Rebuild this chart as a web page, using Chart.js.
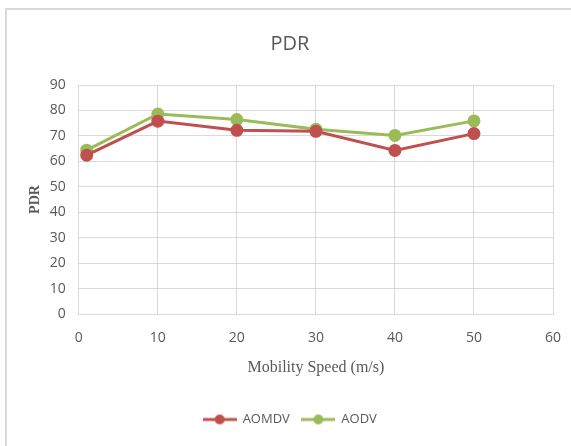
<!DOCTYPE html>
<html>
<head>
<meta charset="utf-8">
<script src="https://cdn.jsdelivr.net/npm/chart.js@4.4.1/dist/chart.umd.min.js"></script>
<style>
  html, body { margin: 0; padding: 0; background: #fff; }
  #wrap { position: relative; width: 571px; height: 446px; }
  #frame { position: absolute; left: 5px; top: 8px; right: -2px; bottom: -2px;
           border-left: 2px solid #d9d9d9; border-top: 2px solid #d9d9d9; }
  canvas { position: absolute; left: 0; top: 0; }
</style>
</head>
<body>
<div id="wrap">
  <div id="frame"></div>
  <canvas id="c" width="571" height="446"></canvas>
</div>
<script>
// Mobility speed (m/s) and packet delivery ratio per protocol
const speeds = [1, 10, 20, 30, 40, 50];
const aomdv = [62.4, 75.8, 72.2, 71.8, 64.3, 70.9];
const aodv  = [64.4, 78.6, 76.4, 72.6, 70.2, 75.9];
const seriesNames = ['AOMDV', 'AODV'];
const seriesColors = ['#c0504d', '#9bbb59'];

const grey = '#595959';
const gridGrey = '#d9d9d9';

// legend marker: short line with a dot in the middle
function legendMarker(color) {
  const cv = document.createElement('canvas');
  cv.width = 34; cv.height = 12;
  const g = cv.getContext('2d');
  g.strokeStyle = color; g.lineWidth = 3;
  g.beginPath(); g.moveTo(0, 6); g.lineTo(34, 6); g.stroke();
  g.fillStyle = color;
  g.beginPath(); g.arc(17, 6, 5, 0, Math.PI * 2); g.fill();
  return cv;
}

const toPoints = vals => speeds.map((s, i) => ({ x: s, y: vals[i] }));

new Chart(document.getElementById('c'), {
  type: 'line',
  data: {
    datasets: [aomdv, aodv].map((vals, i) => ({
      label: seriesNames[i],
      data: toPoints(vals),
      borderColor: seriesColors[i],
      backgroundColor: seriesColors[i],
      borderWidth: 3,
      pointRadius: 5,
      pointHoverRadius: 5,
      pointStyle: 'circle',
      tension: 0
    }))
  },
  options: {
    responsive: false,
    animation: false,
    layout: { padding: { left: 27, right: 18, top: 10, bottom: 10 } },
    plugins: {
      title: {
        display: true,
        text: 'PDR',
        color: grey,
        font: { family: 'Open Sans', size: 20, weight: 'normal' },
        padding: { top: 22, bottom: 29 }
      },
      legend: {
        position: 'bottom',
        labels: {
          color: grey,
          font: { family: 'Open Sans', size: 13 },
          usePointStyle: true,
          pointStyleWidth: 33,
          boxWidth: 33,
          padding: 12,
          generateLabels: chart => chart.data.datasets.map((ds, i) => ({
            text: ds.label,
            pointStyle: legendMarker(seriesColors[i]),
            fontColor: grey,
            strokeStyle: 'transparent',
            fillStyle: 'transparent',
            lineWidth: 0,
            datasetIndex: i
          }))
        }
      },
      tooltip: { enabled: false }
    },
    scales: {
      x: {
        type: 'linear',
        min: 0, max: 60,
        ticks: { stepSize: 10, color: grey, font: { family: 'Open Sans', size: 14 }, padding: 16 },
        grid: { color: gridGrey, drawTicks: false },
        border: { color: gridGrey },
        afterFit: scale => { scale.paddingRight = 0; },
        title: {
          display: true,
          text: 'Mobility Speed (m/s)',
          color: grey,
          font: { family: 'Liberation Serif', size: 16 },
          padding: { top: -5, bottom: 24 }
        }
      },
      y: {
        min: 0, max: 90,
        ticks: { stepSize: 10, color: grey, font: { family: 'Open Sans', size: 14 }, padding: 13 },
        grid: { color: gridGrey, drawTicks: false },
        border: { display: false },
        title: {
          display: true,
          text: 'PDR',
          color: grey,
          font: { family: 'Liberation Serif', size: 14, weight: 'bold' },
          padding: { top: 0, bottom: -7 }
        }
      }
    }
  }
});
</script>
</body>
</html>
